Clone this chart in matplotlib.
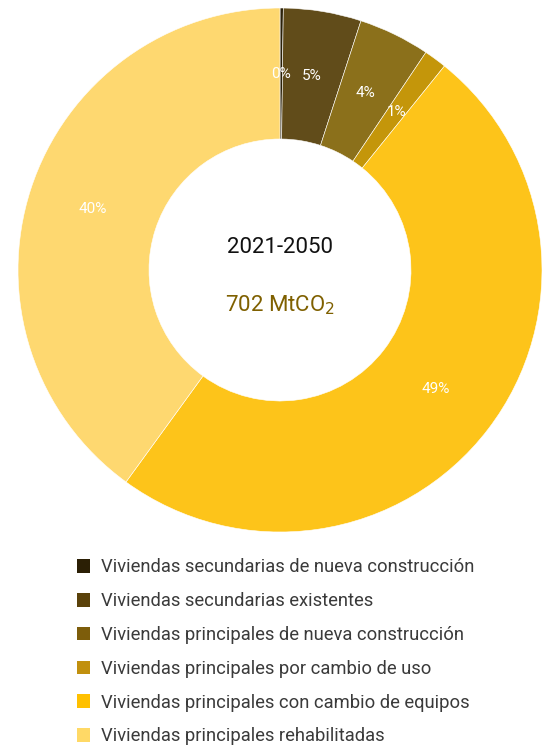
import matplotlib.pyplot as plt
import numpy as np
from matplotlib.patches import Patch

# Emission shares by housing segment, 2021-2050 (%)
categories = [
    "Viviendas secundarias de nueva construcción",
    "Viviendas secundarias existentes",
    "Viviendas principales de nueva construcción",
    "Viviendas principales por cambio de uso",
    "Viviendas principales con cambio de equipos",
    "Viviendas principales rehabilitadas",
]
shares = [0.2, 4.8, 4.4, 1.4, 49.2, 40.0]
colors = ["#2b2109", "#614c1a", "#8b701b", "#c4960a", "#fdc41a", "#fed870"]
legend_colors = ["#2b1f05", "#5a410a", "#7d5d0b", "#c1900e", "#ffc000", "#ffd966"]
period = "2021-2050"
total = "702 MtCO$_2$"

plt.rcParams["font.family"] = ["Roboto", "DejaVu Sans"]

W, H = 547, 746
fig = plt.figure(figsize=(W / 100, H / 100), dpi=100)

# Donut placement in pixels
cx, cy, r = 280, 270, 262
ax = fig.add_axes([(cx - r) / W, (H - cy - r) / H, 2 * r / W, 2 * r / H])
wedges, _ = ax.pie(
    shares,
    colors=colors,
    startangle=90,
    counterclock=False,
    radius=1,
    wedgeprops=dict(width=0.5, edgecolor="white", linewidth=0.4),
)
ax.set_xlim(-1, 1)
ax.set_ylim(-1, 1)
ax.set_aspect("equal")
ax.axis("off")

# Percent labels in the middle of the ring
cum = 0
for s in shares:
    mid = np.deg2rad(90 - (cum + s / 2) * 3.6)
    cum += s
    ax.text(0.75 * np.cos(mid), 0.75 * np.sin(mid), f"{s:.0f}%",
            ha="center", va="center", color="white", fontsize=11)

ax.text(0, 0.085, period, ha="center", va="center", fontsize=16, color="#111111")
ax.text(0, -0.135, total, ha="center", va="center", fontsize=16, color="#7f6000")

handles = [Patch(facecolor=c, edgecolor="none") for c in legend_colors]
fig.legend(
    handles, categories,
    loc="upper left",
    bbox_to_anchor=(60 / W, 1 - 542 / H),
    frameon=False,
    handlelength=0.75,
    handleheight=0.75,
    handletextpad=0.6,
    labelspacing=0.86,
    labelcolor="#3a3a3a",
    prop={"size": 13.2},
)

fig.savefig("out.png", dpi=100)
